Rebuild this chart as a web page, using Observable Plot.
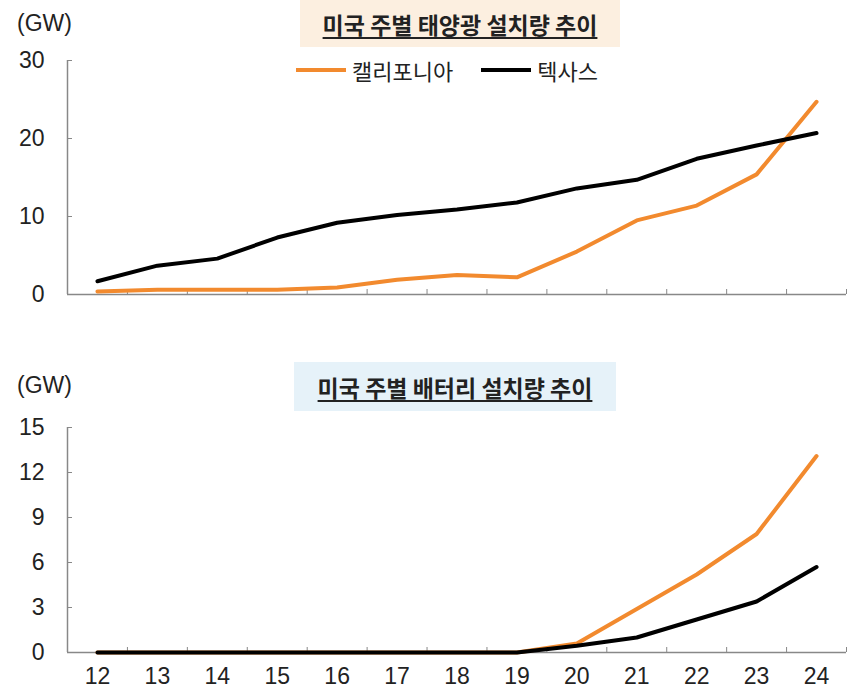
<!DOCTYPE html>
<html><head><meta charset="utf-8">
<script src="https://cdn.jsdelivr.net/npm/d3@7"></script>
<script src="https://cdn.jsdelivr.net/npm/@observablehq/plot@0.6"></script>
<style>
body{margin:0;background:#fff;}
#wrap{position:relative;width:852px;height:689px;overflow:hidden;font-family:"Noto Sans CJK KR","Noto Sans",sans-serif;color:#222;}
.tbox{position:absolute;display:flex;align-items:center;justify-content:center;}
.tbox span{font-weight:bold;font-size:23px;text-decoration:underline;text-decoration-thickness:2px;text-underline-offset:3px;color:#222;}
.unit{position:absolute;font-family:"Liberation Sans",sans-serif;font-size:23px;color:#222;}
.legend{position:absolute;display:flex;align-items:center;font-size:22px;color:#222;}
.legend .sw{display:inline-block;width:50px;height:4px;margin-right:6px;}
.legend .item{display:flex;align-items:center;margin-right:28px;}
.plot{position:absolute;left:0;}
</style></head><body>
<div id="wrap">
  <div class="tbox" style="left:300px;top:0;width:320px;height:47px;background:#fcefe0;"><span>미국 주별 태양광 설치량 추이</span></div>
  <div class="unit" style="left:17px;top:10px;">(GW)</div>
  <div class="legend" id="legend" style="left:296px;top:54px;"></div>
  <div class="tbox" style="left:294px;top:362px;width:322px;height:49px;background:#e6f2f9;"><span>미국 주별 배터리 설치량 추이</span></div>
  <div class="unit" style="left:17px;top:372px;">(GW)</div>
  <div class="plot" id="top" style="top:0;"></div>
  <div class="plot" id="bottom" style="top:340px;"></div>
</div>
<script>
const years = [12,13,14,15,16,17,18,19,20,21,22,23,24];
const seriesNames = ["캘리포니아","텍사스"];
const seriesColors = ["#f28a2e","#000000"];
const solarCA = [0.4,0.6,0.6,0.6,0.9,1.9,2.5,2.2,5.5,9.5,11.4,15.4,24.7];
const solarTX = [1.7,3.7,4.6,7.3,9.2,10.2,10.9,11.8,13.6,14.7,17.4,19.1,20.7];
const batteryCA = [0,0,0,0,0,0,0,0,0.6,2.9,5.2,7.9,13.1];
const batteryTX = [0,0,0,0,0,0,0,0,0.45,1.0,2.2,3.4,5.7];
const solarTicks = [0,10,20,30];
const batteryTicks = [0,3,6,9,12,15];

const legend = document.getElementById("legend");
seriesNames.forEach((n,i)=>{
  const it = document.createElement("div"); it.className="item";
  it.innerHTML = `<span class="sw" style="background:${seriesColors[i]}"></span><span>${n}</span>`;
  legend.appendChild(it);
});

function chart({height, marginTop, marginBottom, yMax, yTicks, ca, tx, xLabels, sw}) {
  const caData = years.map((x,i)=>({x, y:ca[i]}));
  const txData = years.map((x,i)=>({x, y:tx[i]}));
  const bounds = years.map(y=>y-0.5).concat([years[years.length-1]+0.5]);
  const marks = [
    Plot.ruleY([0],{stroke:"#888",strokeWidth:1.5}),
    Plot.ruleX([bounds[0]],{y1:0,y2:yMax,stroke:"#888",strokeWidth:1.5}),
    Plot.axisY({ticks:yTicks, tickSize:5, dx:5, tickPadding:23, stroke:"#888", fill:"#222", label:null, tickFormat:d=>String(d)}),
    Plot.axisX({ticks:bounds, tickSize:5, dy:-5, stroke:"#888", label:null, tickFormat:()=>""}),
    Plot.line(caData,{x:"x",y:"y",stroke:seriesColors[0],strokeWidth:sw}),
    Plot.line(txData,{x:"x",y:"y",stroke:seriesColors[1],strokeWidth:sw})
  ];
  if (xLabels) marks.push(Plot.axisX({ticks:years, tickSize:0, tickPadding:15, fill:"#222", label:null, tickFormat:d=>String(d)}));
  return Plot.plot({
    width:852, height, marginLeft:67, marginRight:6, marginTop, marginBottom,
    x:{type:"linear", domain:[bounds[0], bounds[bounds.length-1]], label:null},
    y:{domain:[0,yMax], label:null},
    style:{fontFamily:"'Liberation Sans', sans-serif", fontSize:"23px", color:"#222", background:"transparent", overflow:"visible"},
    marks
  });
}
document.getElementById("top").appendChild(chart({height:320, marginTop:60, marginBottom:26, yMax:30, yTicks:solarTicks, ca:solarCA, tx:solarTX, xLabels:false, sw:4}));
document.getElementById("bottom").appendChild(chart({height:349, marginTop:87, marginBottom:37, yMax:15, yTicks:batteryTicks, ca:batteryCA, tx:batteryTX, xLabels:true, sw:4}));
</script>
</body></html>
